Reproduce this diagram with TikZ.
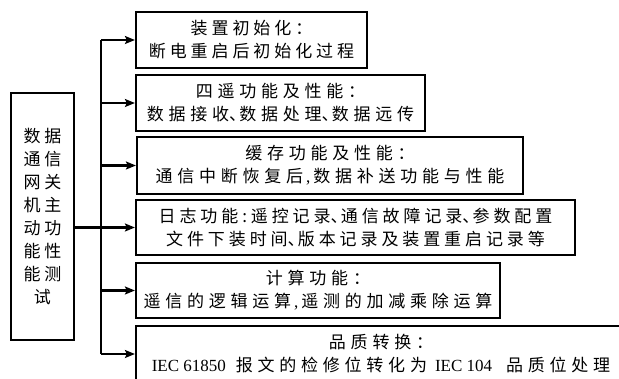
\documentclass[tikz,border=0pt]{standalone}
\usepackage{fontspec}
\setmainfont{Liberation Serif}
\newfontfamily\cjk[LetterSpace=23]{Noto Sans CJK SC}
\newfontfamily\cjkwide[LetterSpace=28]{Noto Sans CJK SC}
\usepackage{tikz}
\usetikzlibrary{shapes.geometric, arrows, arrows.meta}
\tikzstyle{arrow} = [line width=2.2pt,->,>={Stealth[length=10pt,width=8pt,inset=2pt]}]
\tikzstyle{box} = [draw,line width=2.2pt,inner sep=0pt,align=center,font=\cjk\fontsize{17}{23}\selectfont]
\tikzstyle{widebox} = [box,font=\cjkwide\fontsize{17}{23}\selectfont]
\newcommand{\dun}{\makebox[0.6em][l]{、}}
\newcommand{\dou}{\makebox[0.6em][c]{\rmfamily,}}

\begin{document}
\begin{tikzpicture}[x=1pt,y=-1pt]
	\useasboundingbox (0,0) rectangle (619,379);
	\clip (0,0) rectangle (619,379);
	% Main test box on the left:
	\node [box,minimum width=63,minimum height=247] (main) at (42.5,216.5)
		{数据\\通信\\网关\\机主\\动功\\能性\\能测\\试};
	% Test items:
	\node [box,minimum width=231,minimum height=56] (b1) at (251.5,40)
		{装置初始化：\\断电重启后初始化过程};
	\node [widebox,minimum width=289,minimum height=56] (b2) at (280.5,103)
		{四遥功能及性能：\\数据接收\dun 数据处理\dun 数据远传};
	\node [widebox,minimum width=386,minimum height=57] (b3) at (330,165.5)
		{缓存功能及性能：\\通信中断恢复后\dou 数据补送功能与性能};
	\node [box,minimum width=439,minimum height=55] (b4) at (355.5,227.5)
		{日志功能:遥控记录\dun 通信故障记录\dun 参数配置\\文件下装时间\dun 版本记录及装置重启记录等};
	\node [widebox,minimum width=364,minimum height=55] (b5) at (318,290.5)
		{计算功能：\\遥信的逻辑运算\dou 遥测的加减乘除运算};
	% The last box runs past the right and bottom edges
	\node [widebox,minimum width=490,minimum height=56] (b6) at (381,354)
		{品质转换：\\{\rmfamily IEC 61850}\hspace{10pt}报文的检修位转化为\hspace{8pt}{\rmfamily IEC 104}\hspace{14pt}品质位处理};
	% Connectors:
	\coordinate (trunk) at (101,0);
	\draw [line width=2.2pt] (b1.west -| trunk) -- (b6.west -| trunk);
	\draw [arrow] (main.east |- b4.west) -- (b4.west);
	\foreach \b in {b1,b2,b3,b5,b6}{%
		\draw [arrow] (\b.west -| trunk) -- (\b.west);
	}
\end{tikzpicture}
\end{document}
